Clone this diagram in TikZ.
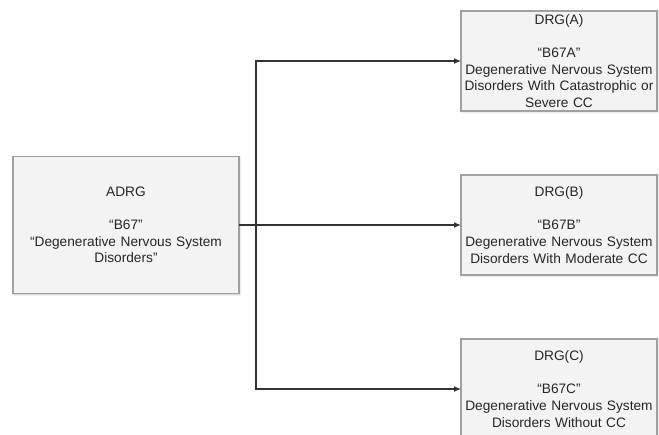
\documentclass[tikz,border=0pt]{standalone}
\usepackage{fontspec}
\setmainfont{Liberation Sans}
\usetikzlibrary{arrows.meta,positioning,shadows.blur}
\definecolor{BoxFill}{RGB}{243,243,243}
\definecolor{BoxLine}{RGB}{160,160,160}
\definecolor{LinkGray}{RGB}{50,50,50}
\tikzset{
  drgbox/.style={draw=BoxLine,line width=1.2pt,fill=BoxFill,inner sep=0pt,outer sep=0pt,
    minimum width=196pt,minimum height=100pt,text width=194pt,align=center,
    font=\fontsize{13.7}{16.6}\selectfont,text=black!85,
    blur shadow={shadow xshift=0.8pt,shadow yshift=-0.8pt,shadow blur steps=4,shadow opacity=25}},
  adrgbox/.style={drgbox,minimum width=226pt,minimum height=137pt,text width=222pt},
  link/.style={-{Latex[length=7pt,width=6pt]},line width=1.2pt,draw=LinkGray},
}
\begin{document}
\begin{tikzpicture}[x=1pt,y=1pt]
  \useasboundingbox (0,0) rectangle (659,-434);
  \node[adrgbox] (adrg) at (126,-225)
    {ADRG\\[16.6pt]“B67”\\“Degenerative Nervous System\\Disorders”};
  \node[drgbox,right=222pt of adrg] (drgB)
    {DRG(B)\\[16.6pt]“B67B”\\Degenerative Nervous System\\Disorders With Moderate CC};
  \node[drgbox,above=64pt of drgB] (drgA)
    {DRG(A)\\[16.6pt]“B67A”\\Degenerative Nervous System\\Disorders With Catastrophic or\\Severe CC};
  \node[drgbox,below=64pt of drgB] (drgC)
    {DRG(C)\\[16.6pt]“B67C”\\Degenerative Nervous System\\Disorders Without CC};
  \coordinate[right=17pt of adrg.east] (split);
  \draw[link] (adrg.east) -- (drgB.west);
  \draw[link] (split) |- (drgA.west);
  \draw[link] (split) |- (drgC.west);
\end{tikzpicture}
\end{document}
